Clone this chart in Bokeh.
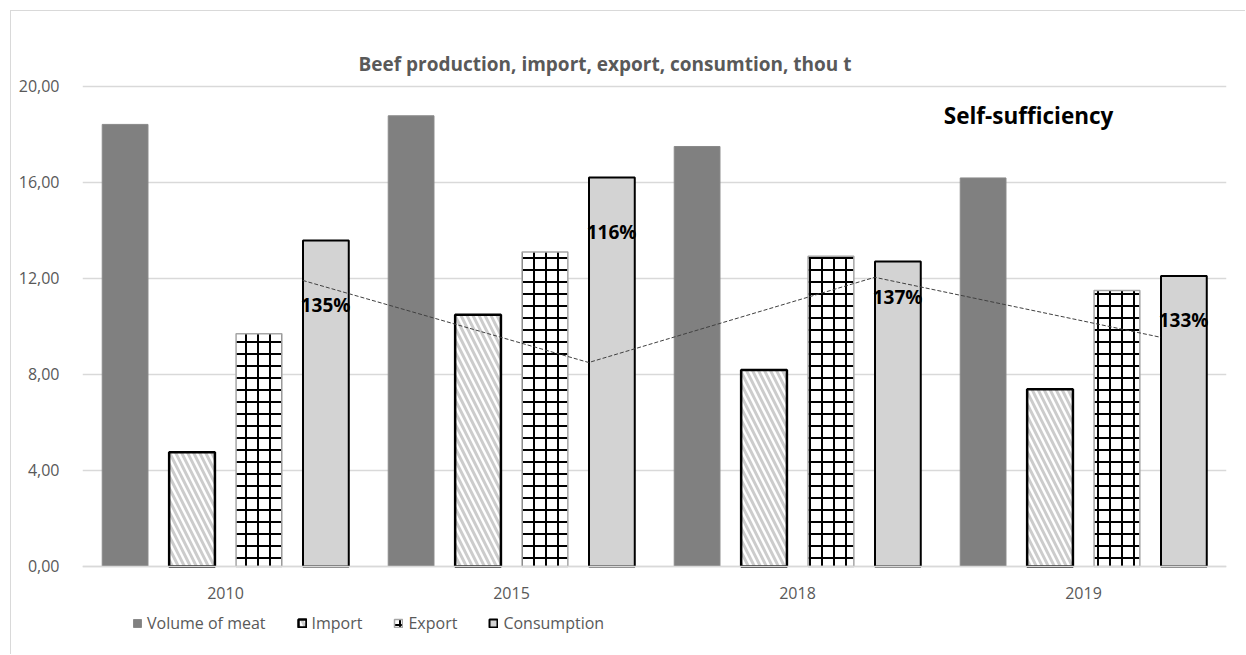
from bokeh.plotting import figure
from bokeh.models import (FactorRange, Range1d, FixedTicker, ColumnDataSource,
                          Legend, LegendItem)
from bokeh.transform import dodge
from bokeh.core.properties import value
from bokeh.embed import file_html
from bokeh.resources import INLINE

# ---- data ----
years = ["2010", "2015", "2018", "2019"]
volume_of_meat = [18.42, 18.78, 17.50, 16.19]
import_vals = [4.76, 10.49, 8.19, 7.39]
export_vals = [9.70, 13.10, 12.93, 11.50]
consumption = [13.58, 16.21, 12.71, 12.10]
self_sufficiency = ["135%", "116%", "137%", "133%"]
self_suff_line = [11.92, 8.50, 12.05, 9.55]      # dashed trend drawn in the chart (primary-axis units)
pct_label_y = [10.88, 13.92, 11.21, 10.29]        # where the % labels sit (primary-axis units)
y_ticks = [0, 4, 8, 12, 16, 20]
title_text = "Beef production, import, export, consumtion, thou t"
note_text = "Self-sufficiency"

FONT = "Open Sans"
GRAY_TXT = "#595959"
GRID = "#d9d9d9"

src = ColumnDataSource(dict(year=years, vol=volume_of_meat, imp=import_vals,
                            exp=export_vals, cons=consumption))

p = figure(x_range=FactorRange(factors=years, range_padding=0),
           y_range=Range1d(-3.2917, 21.5),
           width=1235, height=644,
           min_border_left=71, min_border_right=20,
           min_border_top=39, min_border_bottom=10,
           output_backend="svg", toolbar_location=None)
p.styles = {"margin-left": "10px", "margin-top": "10px",
            "border-left": "1px solid #d9d9d9", "border-top": "1px solid #d9d9d9"}
p.outline_line_color = None
p.background_fill_color = "white"
p.border_fill_color = "white"

bw = 0.16
r_vol = p.vbar(x=dodge("year", -0.351, range=p.x_range), top="vol", width=bw, source=src,
               fill_color="#808080", line_color="#8a8a8a", line_width=1)
r_imp = p.vbar(x=dodge("year", -0.117, range=p.x_range), top="imp", width=bw, source=src,
               fill_color="white", line_color="black", line_width=2.5,
               hatch_pattern="left_diagonal_line", hatch_color="#cccccc",
               hatch_scale=12, hatch_weight=3)
r_exp = p.vbar(x=dodge("year", 0.117, range=p.x_range), top="exp", width=bw, source=src,
               fill_color="white", line_color="#a6a6a6", line_width=1.5,
               hatch_pattern="cross", hatch_color="black",
               hatch_scale=12, hatch_weight=2)
r_cons = p.vbar(x=dodge("year", 0.351, range=p.x_range), top="cons", width=bw, source=src,
                fill_color="#d3d3d3", line_color="black", line_width=2)

# dashed self-sufficiency line and % labels
n = len(years)
line_x = [i + 0.5 + 0.27 for i in range(n)]
p.line(x=line_x, y=self_suff_line, line_color="#404040", line_width=1, line_dash="4 2")
lab_x = [i + 0.5 + 0.35 for i in range(n)]
p.text(x=lab_x, y=pct_label_y, text=self_sufficiency, text_font=value(FONT),
       text_font_style="bold", text_font_size="19px", text_color="black",
       text_align="center", text_baseline="middle")

# title and note (inside frame top area)
p.text(x=[1.827], y=[20.92], text=[title_text], text_font=value(FONT),
       text_font_style="bold", text_font_size="19px", text_color=GRAY_TXT,
       text_align="center", text_baseline="middle")
p.text(x=[3.308], y=[18.79], text=[note_text], text_font=value(FONT),
       text_font_style="bold", text_font_size="22.5px", text_color="black",
       text_align="center", text_baseline="middle")

# axes
p.yaxis.ticker = FixedTicker(ticks=y_ticks)
p.yaxis.major_label_overrides = {t: f"{t:.2f}".replace(".", ",") for t in y_ticks}
p.yaxis.axis_line_color = None
p.yaxis.major_tick_line_color = None
p.yaxis.minor_tick_line_color = None
p.yaxis.major_label_standoff = 17
p.yaxis.major_label_text_font = FONT
p.yaxis.major_label_text_font_size = "16px"
p.yaxis.major_label_text_color = GRAY_TXT

p.xaxis.fixed_location = 0
p.xaxis.axis_line_color = GRID
p.xaxis.axis_line_width = 1.5
p.xaxis.major_tick_line_color = None
p.xaxis.minor_tick_line_color = None
p.xaxis.major_label_standoff = 15
p.xaxis.major_label_text_font = FONT
p.xaxis.major_label_text_font_size = "16px"
p.xaxis.major_label_text_color = GRAY_TXT

p.xgrid.grid_line_color = None
p.ygrid.grid_line_color = GRID
p.ygrid.grid_line_width = 1.5

legend = Legend(items=[LegendItem(label="Volume of meat", renderers=[r_vol]),
                       LegendItem(label="Import", renderers=[r_imp]),
                       LegendItem(label="Export", renderers=[r_exp]),
                       LegendItem(label="Consumption", renderers=[r_cons])],
                orientation="horizontal", location=(50, 11),
                glyph_width=10, glyph_height=10, label_standoff=5, spacing=31,
                padding=0, margin=0, border_line_color=None,
                background_fill_alpha=0,
                label_text_font=FONT, label_text_font_size="16px",
                label_text_color=GRAY_TXT)
p.add_layout(legend)

open("out.html", "w").write(file_html(p, INLINE))
